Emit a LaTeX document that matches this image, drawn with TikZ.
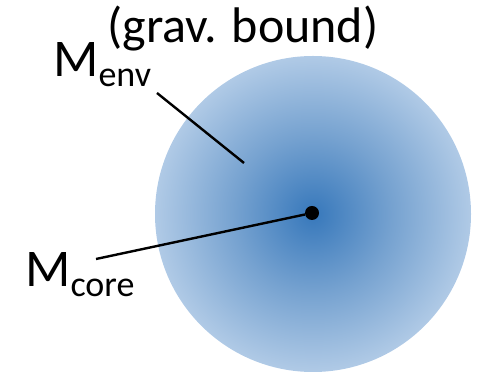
\documentclass[tikz,border=0pt]{standalone}
\usepackage{fontspec}
\setmainfont{Carlito}
\definecolor{cCore}{RGB}{55,120,187}
\definecolor{cMid}{RGB}{118,162,208}
\definecolor{cHalo}{RGB}{176,202,230}
\pgfdeclareradialshading{envshade}{\pgfpoint{0bp}{0bp}}{%
  color(0bp)=(cCore); color(12.5bp)=(cMid); color(25bp)=(cHalo); color(50bp)=(cHalo)}
\newcommand{\Mlbl}[1]{\fontsize{53}{60}\selectfont M\raisebox{-10pt}{\fontsize{36}{40}\selectfont #1}}

\begin{document}
\begin{tikzpicture}[
  x=1pt,y=1pt,
  lbl/.style ={anchor=base west, inner sep=0pt},
  lead/.style={draw=black, line width=2.4pt},
  dot/.style ={circle, fill=black, inner sep=0pt, minimum size=14},
]
\useasboundingbox (0,0) rectangle (479,379);

% ----- bound envelope and core ------------------------------------------
\shade[shading=envshade] (313,165) circle (158);
\node[dot] (core) at (312,166) {};

% ----- labels -------------------------------------------------------------
\node[lbl,font=\fontsize{50}{56}\selectfont] (bound) at (107,336) {(grav. bound)};
\node[lbl] (envlbl)  at (53,302) {\Mlbl{env}};
\node[lbl] (corelbl) at (25,92)  {\Mlbl{core}};

% ----- leaders ------------------------------------------------------------
\coordinate (envtail)  at (157,286);
\coordinate (envpt)    at (244,216);
\coordinate (coretail) at (96,120);
\draw[lead] (envtail) -- (envpt);
\draw[lead] (coretail) -- (core);

\end{tikzpicture}
\end{document}
